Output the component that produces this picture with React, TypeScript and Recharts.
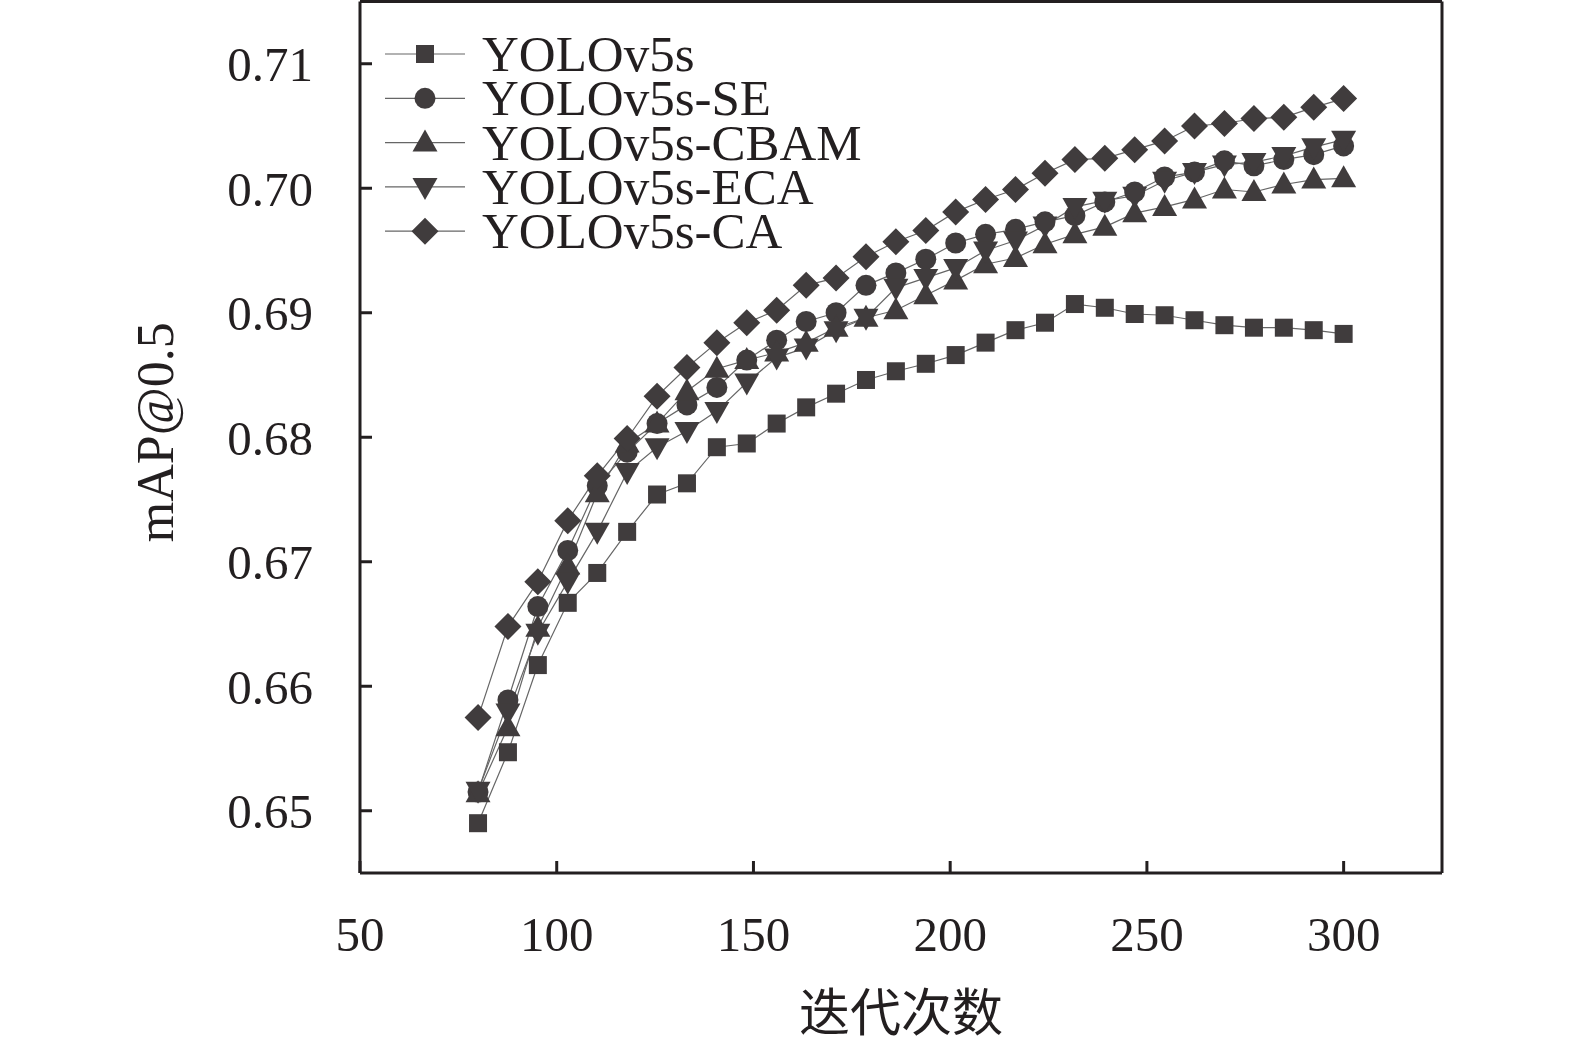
import React from "react";
import {
  LineChart,
  Line,
  XAxis,
  YAxis,
  Legend,
  Label,
  ReferenceLine,
} from "recharts";

const epochs = [
  80, 87.6, 95.2, 102.8, 110.3, 117.9, 125.5, 133.1, 140.7, 148.3, 155.9, 163.4,
  171.0, 178.6, 186.2, 193.8, 201.4, 209.0, 216.6, 224.1, 231.7, 239.3, 246.9,
  254.5, 262.1, 269.7, 277.2, 284.8, 292.4, 300,
];

const yolov5s = [
  0.649, 0.6547, 0.6617, 0.6667, 0.6691, 0.6724, 0.6754, 0.6763, 0.6792, 0.6795,
  0.6811, 0.6824, 0.6835, 0.6846, 0.6853, 0.6859, 0.6866, 0.6876, 0.6886, 0.6892,
  0.6907, 0.6904, 0.6899, 0.6898, 0.6894, 0.689, 0.6888, 0.6888, 0.6886, 0.6883,
];
const yolov5sSE = [
  0.6515, 0.6589, 0.6664, 0.6709, 0.6761, 0.6788, 0.6811, 0.6826, 0.684, 0.6862,
  0.6878, 0.6893, 0.69, 0.6922, 0.6932, 0.6943, 0.6956, 0.6963, 0.6967, 0.6973,
  0.6978, 0.6989, 0.6997, 0.7009, 0.7013, 0.7022, 0.7018, 0.7023, 0.7027, 0.7034,
];
const yolov5sCBAM = [
  0.6514, 0.6567, 0.6647, 0.6697, 0.6755, 0.6795, 0.6811, 0.6837, 0.6855, 0.6862,
  0.6868, 0.6876, 0.6888, 0.6896, 0.6902, 0.6914, 0.6926, 0.6939, 0.6944, 0.6955,
  0.6963, 0.6969, 0.698, 0.6985, 0.6991, 0.6999, 0.6997, 0.7003, 0.7007, 0.7008,
];
const yolov5sECA = [
  0.6516, 0.6579, 0.6643, 0.6684, 0.6724, 0.6772, 0.6792, 0.6805, 0.6821, 0.6844,
  0.6864, 0.6872, 0.6886, 0.6896, 0.692, 0.6928, 0.6936, 0.695, 0.6958, 0.697,
  0.6985, 0.699, 0.6994, 0.7006, 0.7013, 0.7019, 0.7021, 0.7026, 0.7033, 0.7039,
];
const yolov5sCA = [
  0.6575, 0.6648, 0.6684, 0.6733, 0.6769, 0.6799, 0.6833, 0.6856, 0.6876, 0.6892,
  0.6902, 0.6922, 0.6928, 0.6945, 0.6957, 0.6966, 0.6981, 0.6991, 0.6999, 0.7012,
  0.7023, 0.7024, 0.7031, 0.7038, 0.705, 0.7052, 0.7056, 0.7057, 0.7065, 0.7072,
];

const xTicks = [50, 100, 150, 200, 250, 300];
const yTicks = [0.65, 0.66, 0.67, 0.68, 0.69, 0.7, 0.71];

const series = [
  { key: "v5s", name: "YOLOv5s", shape: "square", values: yolov5s },
  { key: "se", name: "YOLOv5s-SE", shape: "circle", values: yolov5sSE },
  { key: "cbam", name: "YOLOv5s-CBAM", shape: "up", values: yolov5sCBAM },
  { key: "eca", name: "YOLOv5s-ECA", shape: "down", values: yolov5sECA },
  { key: "ca", name: "YOLOv5s-CA", shape: "diamond", values: yolov5sCA },
];

const data = epochs.map((epoch, i) => {
  const row: Record<string, number> = { epoch };
  series.forEach((s) => (row[s.key] = s.values[i]));
  return row;
});

const INK = "#231f20";
const MARK = "#403c3d";
const LINE = "#666";
const SERIF = '"Liberation Serif", "Times New Roman", serif';

function Marker({ shape, cx, cy }: { shape: string; cx: number; cy: number }) {
  if (cx == null || cy == null) return null;
  switch (shape) {
    case "square":
      return <rect x={cx - 9} y={cy - 9} width={18} height={18} fill={MARK} />;
    case "circle":
      return <circle cx={cx} cy={cy} r={10.5} fill={MARK} />;
    case "up":
      return (
        <polygon
          points={`${cx},${cy - 13} ${cx + 12.5},${cy + 9} ${cx - 12.5},${cy + 9}`}
          fill={MARK}
        />
      );
    case "down":
      return (
        <polygon
          points={`${cx},${cy + 13} ${cx + 12.5},${cy - 9} ${cx - 12.5},${cy - 9}`}
          fill={MARK}
        />
      );
    default:
      return (
        <polygon
          points={`${cx},${cy - 13.5} ${cx + 13.5},${cy} ${cx},${cy + 13.5} ${cx - 13.5},${cy}`}
          fill={MARK}
        />
      );
  }
}

function LegendBox() {
  return (
    <svg width={520} height={235}>
      {series.map((s, i) => {
        const y = 29 + i * 44.3;
        return (
          <g key={s.key}>
            <line x1={5} x2={85} y1={y} y2={y} stroke={LINE} strokeWidth={1.2} />
            <Marker shape={s.shape} cx={45} cy={y} />
            <text x={102} y={y + 17} fontFamily={SERIF} fontSize={51} fill={INK}>
              {s.name}
            </text>
          </g>
        );
      })}
    </svg>
  );
}

export default function App() {
  return (
    <div style={{ position: "absolute", left: 0, top: 0, background: "#fff" }}>
      <LineChart
        width={1575}
        height={1043}
        data={data}
        margin={{ top: 1.5, right: 133, bottom: 0, left: 0 }}
      >
        <XAxis
          dataKey="epoch"
          type="number"
          domain={[50, 325]}
          ticks={xTicks}
          height={170}
          tickSize={-12}
          tickMargin={55}
          axisLine={{ stroke: INK, strokeWidth: 3 }}
          tickLine={{ stroke: INK, strokeWidth: 3 }}
          tick={{ fill: INK, fontSize: 49, fontFamily: SERIF }}
        >
          <Label
            value="迭代次数"
            position="insideBottom"
            offset={12}
            style={{ fill: INK, fontSize: 51, fontFamily: '"Noto Sans CJK SC", sans-serif' }}
          />
        </XAxis>
        <YAxis
          type="number"
          domain={[0.645, 0.715]}
          ticks={yTicks}
          width={360}
          tickSize={-12}
          tickMargin={59}
          tickFormatter={(v: number) => v.toFixed(2)}
          axisLine={{ stroke: INK, strokeWidth: 3 }}
          tickLine={{ stroke: INK, strokeWidth: 3 }}
          tick={{ fill: INK, fontSize: 49, fontFamily: SERIF }}
        >
          <Label
            value="mAP@0.5"
            position="center"
            angle={-90}
            dx={-25}
            dy={-5}
            style={{ fill: INK, fontSize: 52, fontFamily: SERIF }}
          />
        </YAxis>
        <ReferenceLine y={0.715} stroke={INK} strokeWidth={3} />
        <ReferenceLine x={325} stroke={INK} strokeWidth={3} />
        {series.map((s) => (
          <Line
            key={s.key}
            dataKey={s.key}
            name={s.name}
            stroke={LINE}
            strokeWidth={1.2}
            isAnimationActive={false}
            dot={(p: any) => (
              <Marker key={`${s.key}-${p.index}`} shape={s.shape} cx={p.cx} cy={p.cy} />
            )}
            activeDot={false}
          />
        ))}
        <Legend
          layout="vertical"
          align="center"
          verticalAlign="middle"
          wrapperStyle={{ position: "absolute", left: 380, top: 25, width: 520, height: 235 }}
          content={() => <LegendBox />}
        />
      </LineChart>
    </div>
  );
}
